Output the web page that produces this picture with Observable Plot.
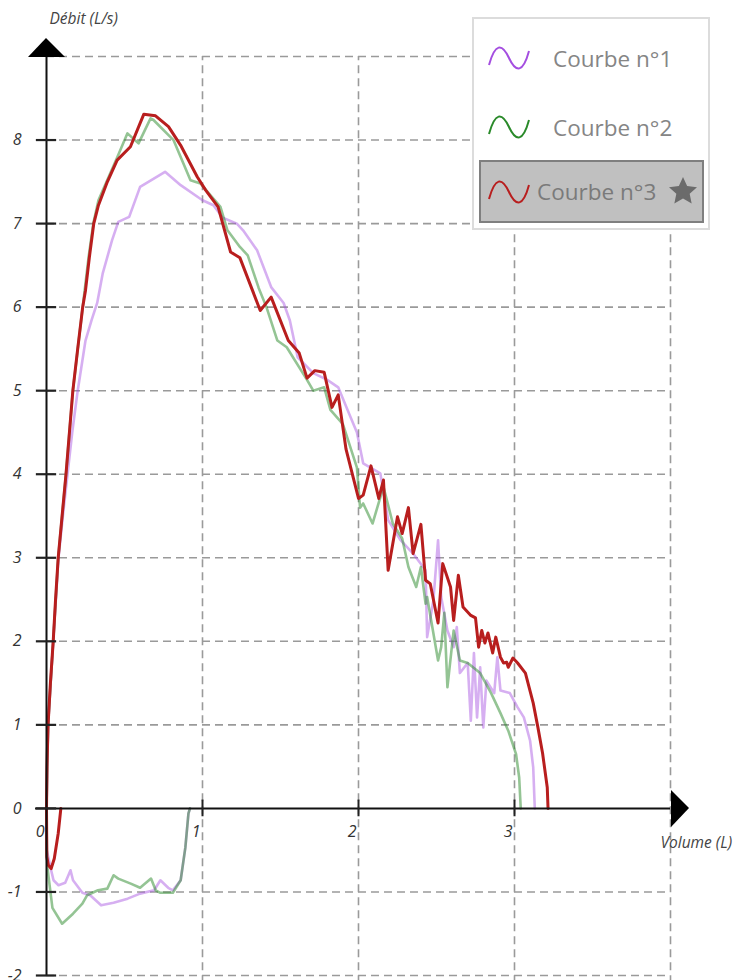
<!DOCTYPE html>
<html>
<head>
<meta charset="utf-8">
<script src="https://cdn.jsdelivr.net/npm/d3@7"></script>
<script src="https://cdn.jsdelivr.net/npm/@observablehq/plot@0.6"></script>
<style>
  body { margin: 0; background: #fff; }
  #wrap { position: relative; width: 748px; height: 980px; overflow: hidden; }
  #legend { position: absolute; left: 472px; top: 17px; width: 234px; height: 209px;
    border: 2px solid #dcdcdc; background: #fff; box-sizing: content-box;
    font-family: "Open Sans", "Noto Sans", sans-serif; font-size: 22.5px; color: #858585; }
  .item { position: absolute; left: 0; height: 40px; display: flex; align-items: center; }
  .item .icon { margin-left: 14px; }
  .item span { position: absolute; white-space: nowrap; }
  .sel { background: #c0c0c0; border: 2px solid #7f7f7f; left: 5px; width: 221px; height: 59px; }
</style>
</head>
<body>
<div id="wrap"></div>
<script>
// ---- data (volume L, flow L/s) ----
const seriesNames = ["Courbe n°1", "Courbe n°2", "Courbe n°3"];
const seriesColors = ["#a44ee0", "#2a8a2a", "#b81e1e"];

const c1Exp = [[0,0],[0.01,1],[0.043,2],[0.077,3],[0.105,3.5],[0.135,4],[0.165,4.5],[0.2,5],[0.25,5.6],[0.29,5.85],[0.325,6.05],[0.36,6.4],[0.42,6.8],[0.46,7.02],[0.53,7.08],[0.60,7.44],[0.76,7.62],[0.86,7.46],[1.0,7.28],[1.07,7.22],[1.13,7.07],[1.22,7.0],[1.26,6.92],[1.35,6.68],[1.44,6.24],[1.52,6.05],[1.56,5.84],[1.61,5.4],[1.71,5.21],[1.80,5.13],[1.87,5.04],[1.93,4.77],[1.99,4.5],[2.03,4.13],[2.14,4.01],[2.19,3.45],[2.27,3.21],[2.35,3.05],[2.43,2.85],[2.44,2.05],[2.48,2.49],[2.51,3.21],[2.53,2.53],[2.57,2.13],[2.61,1.93],[2.63,2.17],[2.65,1.62],[2.70,1.74],[2.72,1.05],[2.74,1.86],[2.76,1.09],[2.78,1.69],[2.80,0.97],[2.82,1.53],[2.87,1.38],[2.89,1.81],[2.91,1.41],[2.97,1.38],[3.02,1.21],[3.06,1.09],[3.10,0.81],[3.12,0.49],[3.13,0]];
const c1Insp = [[0,0],[0.002,-0.5],[0.026,-0.71],[0.045,-0.86],[0.077,-0.92],[0.12,-0.89],[0.154,-0.74],[0.17,-0.86],[0.23,-1.01],[0.28,-1.04],[0.35,-1.16],[0.43,-1.13],[0.52,-1.08],[0.60,-1.02],[0.69,-0.98],[0.73,-0.86],[0.78,-0.95],[0.81,-0.98],[0.86,-0.86],[0.89,-0.47],[0.91,-0.06],[0.92,0]];

const c2Exp = [[0,0],[0.01,1],[0.043,2],[0.075,3],[0.125,4],[0.169,5],[0.232,6],[0.27,6.6],[0.30,7.0],[0.333,7.28],[0.455,7.8],[0.519,8.08],[0.59,7.96],[0.667,8.26],[0.686,8.24],[0.814,8.0],[0.923,7.52],[0.987,7.48],[1.115,7.2],[1.16,6.92],[1.24,6.72],[1.29,6.62],[1.36,6.23],[1.41,6.0],[1.48,5.6],[1.54,5.52],[1.67,5.13],[1.71,5.0],[1.78,5.04],[1.82,4.77],[1.90,4.6],[1.99,4.08],[2.01,3.6],[2.03,3.65],[2.09,3.41],[2.16,3.85],[2.22,3.41],[2.28,3.23],[2.32,2.89],[2.37,2.65],[2.40,2.89],[2.43,2.45],[2.44,2.53],[2.51,1.77],[2.53,1.93],[2.55,2.34],[2.57,1.45],[2.61,2.13],[2.65,1.77],[2.70,1.74],[2.78,1.62],[2.85,1.38],[2.91,1.14],[2.96,0.93],[3.01,0.65],[3.03,0.37],[3.04,0]];
const c2Insp = [[0,0],[0.002,-0.5],[0.006,-0.71],[0.038,-1.19],[0.10,-1.38],[0.17,-1.26],[0.23,-1.14],[0.26,-1.04],[0.33,-0.98],[0.39,-0.96],[0.43,-0.80],[0.46,-0.84],[0.54,-0.90],[0.60,-0.95],[0.67,-0.84],[0.70,-0.98],[0.73,-1.01],[0.81,-1.01],[0.86,-0.86],[0.89,-0.47],[0.91,-0.06],[0.92,0]];

const c3Exp = [[0,0],[0.003,0.5],[0.01,1],[0.025,1.5],[0.043,2],[0.058,2.5],[0.075,3],[0.1,3.5],[0.125,4],[0.147,4.5],[0.169,5],[0.2,5.5],[0.232,6],[0.25,6.2],[0.275,6.6],[0.303,7],[0.333,7.22],[0.39,7.5],[0.453,7.76],[0.538,7.92],[0.624,8.31],[0.699,8.29],[0.782,8.16],[0.859,7.94],[0.966,7.56],[1.02,7.4],[1.10,7.2],[1.18,6.66],[1.24,6.59],[1.37,5.96],[1.44,6.12],[1.55,5.6],[1.62,5.45],[1.67,5.15],[1.72,5.24],[1.78,5.22],[1.83,4.8],[1.87,4.95],[1.92,4.3],[2.0,3.71],[2.03,3.75],[2.08,4.1],[2.13,3.71],[2.16,3.93],[2.19,2.85],[2.25,3.49],[2.28,3.29],[2.32,3.6],[2.35,3.05],[2.40,3.4],[2.43,2.73],[2.46,2.69],[2.51,2.22],[2.54,2.93],[2.59,2.65],[2.61,2.25],[2.64,2.79],[2.67,2.41],[2.72,2.31],[2.75,2.28],[2.77,1.93],[2.79,2.13],[2.81,1.98],[2.83,2.1],[2.86,1.86],[2.88,2.05],[2.91,1.81],[2.93,1.74],[2.95,1.75],[2.96,1.69],[2.99,1.8],[3.02,1.74],[3.07,1.62],[3.12,1.26],[3.15,0.97],[3.18,0.66],[3.21,0.25],[3.215,0]];
const c3Insp = [[0,0],[0.002,-0.58],[0.012,-0.68],[0.03,-0.72],[0.05,-0.6],[0.075,-0.3],[0.092,0]];

const xTicks = [0, 1, 2, 3];
const yTicks = [-2, -1, 0, 1, 2, 3, 4, 5, 6, 7, 8];
const xGrid = [1, 2, 3, 4];
const yGrid = [-2, -1, 1, 2, 3, 4, 5, 6, 7, 8, 9];

const toRows = (arr, s, part) => arr.map(([v, f]) => ({v, f, s, part: s + part}));
const rows1 = [...toRows(c1Exp, 0, "e"), ...toRows(c1Insp, 0, "i")];
const rows2 = [...toRows(c2Exp, 1, "e"), ...toRows(c2Insp, 1, "i")];
const rows3 = [...toRows(c3Exp, 2, "e"), ...toRows(c3Insp, 2, "i")];

const font = "'Open Sans', 'Noto Sans', sans-serif";
const textOpts = {fontFamily: font, fontSize: 16, fontStyle: "italic", fill: "#333"};

const plot = Plot.plot({
  width: 748, height: 980,
  marginLeft: 46, marginRight: 78, marginTop: 56, marginBottom: 5,
  x: {domain: [0, 4], axis: null},
  y: {domain: [-2, 9], axis: null},
  style: {background: "transparent", overflow: "visible"},
  marks: [
    Plot.ruleY(yGrid, {x1: 0, x2: 4, stroke: "#9a9a9a", strokeWidth: 1.6, strokeDasharray: "8,5"}),
    Plot.ruleX(xGrid, {y1: -2.1, y2: 9, stroke: "#9a9a9a", strokeWidth: 1.6, strokeDasharray: "8,5"}),
    Plot.line(rows1, {x: "v", y: "f", z: "part", stroke: seriesColors[0], strokeOpacity: 0.45, strokeWidth: 2.6}),
    Plot.line(rows2, {x: "v", y: "f", z: "part", stroke: seriesColors[1], strokeOpacity: 0.5, strokeWidth: 2.6}),
    Plot.line(rows3, {x: "v", y: "f", z: "part", stroke: seriesColors[2], strokeWidth: 3}),
    Plot.ruleX([0], {y1: -2, y2: 9, stroke: "#111", strokeWidth: 2}),
    Plot.ruleY([0], {x1: -0.07, x2: 4, stroke: "#111", strokeWidth: 2}),
    Plot.ruleY(yTicks, {x1: -0.065, x2: 0.065, stroke: "#222", strokeWidth: 2.2}),
    Plot.ruleX(xTicks.filter(d => d > 0), {y1: -0.1, y2: 0.1, stroke: "#222", strokeWidth: 2}),
    Plot.text(yTicks, {x: 0, y: d => d, text: d => String(d), dx: -25, textAnchor: "end", ...textOpts}),
    Plot.text(xTicks, {x: d => d, y: 0, text: d => String(d), dx: -2, dy: 23, textAnchor: "end", ...textOpts}),
    Plot.text(["Débit (L/s)"], {x: 0, y: 9, text: d => d, dx: 3, dy: -37, textAnchor: "start", ...textOpts, fontSize: 15.5, fill: "#444"}),
    Plot.text(["Volume (L)"], {x: 4, y: 0, text: d => d, dx: -10, dy: 35, textAnchor: "start", ...textOpts, fontSize: 15.5, fill: "#444"})
  ]
});

// axis arrows, positioned through the plot's own scales
const sx = plot.scale("x"), sy = plot.scale("y");
const svg = d3.select(plot);
const ax0 = sx.apply(0), ay9 = sy.apply(9), ax4 = sx.apply(4), ay0 = sy.apply(0);
svg.append("path")
  .attr("d", `M${ax0 - 18},${ay9 + 1}L${ax0 + 19},${ay9 + 1}L${ax0},${ay9 - 18}Z`)
  .attr("fill", "#000");
svg.append("path")
  .attr("d", `M${ax4 + 1},${ay0 - 18}L${ax4 + 1},${ay0 + 19}L${ax4 + 19},${ay0}Z`)
  .attr("fill", "#000");

const wrap = document.getElementById("wrap");
wrap.appendChild(plot);

// legend (HTML overlay)
const sine = (c, ml) => `<svg class="icon" style="margin-left:${ml}px" width="42" height="24" viewBox="0 0 42 24"><path d="M1,19 C7,-3 14,-3 21,12 C28,27 35,27 41,5" fill="none" stroke="${c}" stroke-width="2"/></svg>`;
const legend = document.createElement("div");
legend.id = "legend";
legend.innerHTML = `
  <div class="item" style="top:19px;width:234px">${sine(seriesColors[0], 14)}<span style="left:79px">${seriesNames[0]}</span></div>
  <div class="item" style="top:88px;width:234px">${sine(seriesColors[1], 14)}<span style="left:79px">${seriesNames[1]}</span></div>
  <div class="item sel" style="top:141px">
    ${sine(seriesColors[2], 7)}
    <span style="left:56px;color:#7a7a7a">${seriesNames[2]}</span>
    <svg style="position:absolute;left:186px;top:13px" width="32" height="32" viewBox="0 0 24 24"><path d="M12,1.5 L15.1,8.3 L22.5,9.1 L17,14.1 L18.5,21.4 L12,17.7 L5.5,21.4 L7,14.1 L1.5,9.1 L8.9,8.3Z" fill="#6b6b6b"/></svg>
  </div>`;
wrap.appendChild(legend);
</script>
</body>
</html>
